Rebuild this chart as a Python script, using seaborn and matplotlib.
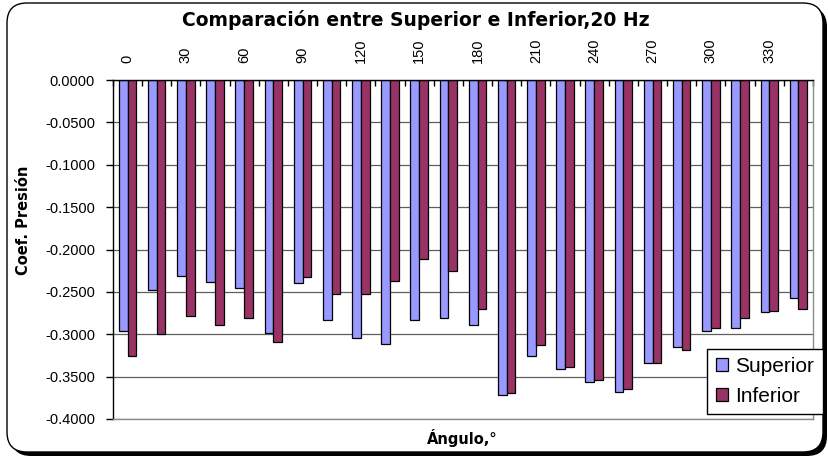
import pandas as pd
import matplotlib
matplotlib.use('Agg')
import matplotlib.pyplot as plt
import seaborn as sns
from matplotlib.patches import FancyBboxPatch
from matplotlib.ticker import FuncFormatter

# datos
angulos = list(range(0, 360, 15))
superior = [-0.296, -0.248, -0.231, -0.238, -0.245, -0.298, -0.240, -0.283,
            -0.305, -0.311, -0.283, -0.281, -0.289, -0.372, -0.326, -0.341,
            -0.356, -0.368, -0.334, -0.315, -0.296, -0.293, -0.274, -0.257]
inferior = [-0.326, -0.300, -0.278, -0.289, -0.281, -0.309, -0.233, -0.253,
            -0.253, -0.237, -0.211, -0.225, -0.270, -0.369, -0.313, -0.339,
            -0.354, -0.365, -0.334, -0.318, -0.293, -0.281, -0.272, -0.270]
series = ['Superior', 'Inferior']
colores = ['#9999FF', '#993366']

df = pd.DataFrame({
    'angulo': [str(a) for a in angulos] * 2,
    'cp': superior + inferior,
    'serie': [series[0]] * len(angulos) + [series[1]] * len(angulos),
})

plt.rcParams['font.family'] = ['Liberation Sans', 'DejaVu Sans']
plt.rcParams['axes.unicode_minus'] = False

W, H = 829, 459
fig = plt.figure(figsize=(W / 100, H / 100), dpi=100)

# fondo con marco redondeado (coordenadas en pixeles)
bg = fig.add_axes([0, 0, 1, 1], zorder=0)
bg.set_xlim(0, W)
bg.set_ylim(H, 0)
bg.axis('off')
bg.add_patch(FancyBboxPatch((11, 7), 816, 449, boxstyle='round,pad=0,rounding_size=20',
                            fc='black', ec='none'))
bg.add_patch(FancyBboxPatch((7, 3), 816, 449, boxstyle='round,pad=0,rounding_size=20',
                            fc='white', ec='black', lw=1))
negrita = dict(family=['DejaVu Sans'], fontweight='bold', ha='center', va='center')
bg.text(416, 20, 'Comparación entre Superior e Inferior,20 Hz', fontsize=13.5, **negrita)
bg.text(24, 220, 'Coef. Presión', rotation=90, fontsize=10.5, **negrita)
bg.text(462, 438, 'Ángulo,°', fontsize=10.5, **negrita)

# area de trazado
x0, x1, y0, y1 = 113, 813, 80, 419
ax = fig.add_axes([x0 / W, 1 - y1 / H, (x1 - x0) / W, (y1 - y0) / H], zorder=1)
sns.barplot(data=df, x='angulo', y='cp', hue='serie', hue_order=series,
            palette=colores, width=0.6, edgecolor='black', linewidth=0.9,
            saturation=1, ax=ax)

ax.set_xlim(-0.5, len(angulos) - 0.5)
ax.set_ylim(-0.4, 0)
ax.set_yticks([-0.05 * i for i in range(9)])
ax.yaxis.set_major_formatter(FuncFormatter(lambda v, p: '0.0000' if abs(v) < 1e-9 else f'{v:.4f}'))
ax.grid(axis='y', color='#5f5f5f', lw=0.9)
ax.set_axisbelow(True)
ax.set_xlabel('')
ax.set_ylabel('')

ax.xaxis.tick_top()
ax.set_xticks(range(len(angulos)))
ax.set_xticklabels([str(a) if i % 2 == 0 else '' for i, a in enumerate(angulos)],
                   rotation=90)
ax.set_xticks([i - 0.5 for i in range(len(angulos) + 1)], minor=True)
ax.tick_params(axis='x', which='major', length=0, pad=12, labelsize=10.5)
ax.tick_params(axis='x', which='minor', direction='in', length=4, width=1, color='black')
ax.tick_params(axis='y', length=5, width=1, pad=8, labelsize=10.5)

for s in ['top', 'left']:
    ax.spines[s].set_color('black')
    ax.spines[s].set_linewidth(1)
for s in ['right', 'bottom']:
    ax.spines[s].set_color('#8c8c8c')
    ax.spines[s].set_linewidth(1)

handles, labels = ax.get_legend_handles_labels()
leg = ax.legend(handles, labels, loc='lower left', bbox_to_anchor=(0.849, 0.015),
                fontsize=15, frameon=True, fancybox=False, framealpha=1,
                edgecolor='black', handlelength=0.6, handleheight=0.6,
                handletextpad=0.35, borderpad=0.4, labelspacing=0.5,
                borderaxespad=0)
leg.get_frame().set_linewidth(1)

plt.savefig('out.png', dpi=100)
plt.close()
